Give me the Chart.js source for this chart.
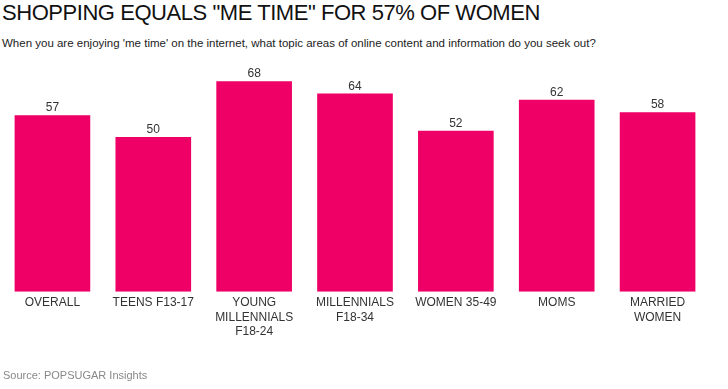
<!DOCTYPE html>
<html>
<head>
<meta charset="utf-8">
<script src="https://cdn.jsdelivr.net/npm/chart.js@4/dist/chart.umd.min.js"></script>
<style>
  html, body { margin: 0; padding: 0; background: #fff; }
  body { width: 728px; height: 389px; position: relative; overflow: hidden; font-family: "Liberation Sans", Arial, sans-serif; }
  #title { position: absolute; left: 2px; top: 0px; font-size: 22px; letter-spacing: -0.45px; color: #111; white-space: nowrap; }
  #subtitle { position: absolute; left: 2px; top: 37px; font-size: 11.5px; color: #222; white-space: nowrap; }
  #source { position: absolute; left: 3px; top: 369px; font-size: 11px; color: #888; white-space: nowrap; }
  #wrap { position: absolute; left: 0; top: 0; width: 728px; height: 389px; }
</style>
</head>
<body>
<div id="title">SHOPPING EQUALS "ME TIME" FOR 57% OF WOMEN</div>
<div id="subtitle">When you are enjoying 'me time' on the internet, what topic areas of online content and information do you seek out?</div>
<div id="wrap"><canvas id="chart"></canvas></div>
<div id="source">Source: POPSUGAR Insights</div>
<script>
const categories = [
    ['OVERALL'],
    ['TEENS F13-17'],
    ['YOUNG', 'MILLENNIALS', 'F18-24'],
    ['MILLENNIALS', 'F18-34'],
    ['WOMEN 35-49'],
    ['MOMS'],
    ['MARRIED', 'WOMEN']
];
const values = [57, 50, 68, 64, 52, 62, 58];

// value labels above each bar
const barLabels = {
    id: 'barLabels',
    afterDatasetsDraw(chart) {
        const ctx = chart.ctx;
        const meta = chart.getDatasetMeta(0);
        ctx.save();
        ctx.font = '12px "Liberation Sans", Arial, sans-serif';
        ctx.fillStyle = '#333';
        ctx.textAlign = 'center';
        ctx.textBaseline = 'alphabetic';
        meta.data.forEach((bar, i) => {
            ctx.fillText(values[i], bar.x, bar.y - 4);
        });
        ctx.restore();
    }
};

new Chart(document.getElementById('chart'), {
    type: 'bar',
    data: {
        labels: categories,
        datasets: [{
            data: values,
            backgroundColor: '#EE0066',
            categoryPercentage: 0.75,
            barPercentage: 1.0
        }]
    },
    options: {
        responsive: true,
        maintainAspectRatio: false,
        animation: false,
        layout: { padding: { top: 44, left: 2, right: 20, bottom: 46 } },
        plugins: { legend: { display: false }, tooltip: { enabled: false } },
        scales: {
            x: {
                grid: { display: false, drawTicks: false },
                border: { display: false },
                ticks: {
                    color: '#333',
                    padding: 4,
                    maxRotation: 0,
                    autoSkip: false,
                    font: { family: '"Liberation Sans", Arial, sans-serif', size: 12, lineHeight: 1.2 }
                }
            },
            y: {
                display: false,
                min: 0,
                max: 80
            }
        }
    },
    plugins: [barLabels]
});
</script>
</body>
</html>
